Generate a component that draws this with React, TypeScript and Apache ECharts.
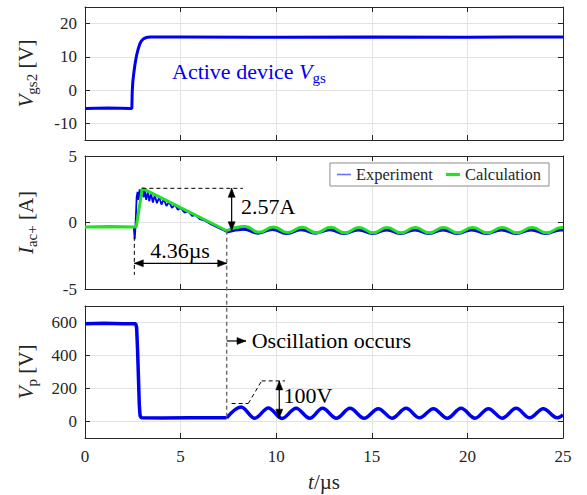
import React, { useEffect, useRef } from "react";
import * as echarts from "echarts";

const FONT = "Liberation Serif";
const INK = "#262626";
const BLUE = "#0000f0";
const GREEN = "#22e022";
const GRID_LINE = "#e3e3e3";

// Axis ranges and tick values
const timeRange = [0, 25];
const timeStep = 5;
const vgsRange = [-15, 25];
const vgsTicks = [-10, 0, 10, 20];
const iacRange = [-5, 5];
const iacTicks = [-5, 0, 5];
const vpRange = [-100, 700];
const vpTicks = [0, 200, 400, 600];

// Gate-source voltage of the active device [µs, V]
const vgs2Trace = [
  [0, -5.5], [1.2, -5.4], [2.45, -5.5], [2.47, -0.5], [2.5, 2.5], [2.55, 5],
  [2.6, 7.2], [2.65, 9], [2.7, 10.5], [2.78, 12.3], [2.86, 13.8], [2.95, 14.8],
  [3.05, 15.4], [3.2, 15.8], [3.4, 16.0], [5, 16.0], [10, 15.9], [15, 16.0],
  [20, 15.9], [25, 16.0],
];

// Measured ac current: switching transient [µs, A]
const iacMeasured = [
  [0, -0.33], [1.3, -0.3], [2.55, -0.33], [2.6, -1.25], [2.64, -0.3], [2.7, 1.9],
  [2.75, 2.3], [2.8, 1.7], [2.86, 2.5], [2.92, 1.8], [3.0, 2.6], [3.06, 1.9],
  [3.12, 2.4], [3.2, 1.7], [3.28, 2.3], [3.36, 1.6], [3.45, 2.2], [3.55, 1.5],
  [3.65, 2.05], [3.76, 1.45], [3.88, 1.9], [4.0, 1.35], [4.12, 1.75], [4.26, 1.25],
  [4.4, 1.55], [4.55, 1.1], [4.7, 1.35], [4.86, 0.95], [5.0, 1.1], [5.2, 0.75],
  [5.4, 0.85], [5.6, 0.5], [5.8, 0.55], [6.0, 0.25], [6.3, 0.12], [6.6, -0.15],
  [6.9, -0.35], [7.2, -0.55], [7.41, -0.72],
];
// Measured ac current: residual oscillation
const iacMeasuredOsc = [
  [7.41, -0.72], [8.3, -0.5], [9.05, -0.8], [9.8, -0.52], [10.55, -0.82],
  [11.3, -0.54], [12.05, -0.8], [12.8, -0.55], [13.55, -0.82], [14.3, -0.56],
  [15.05, -0.82], [15.78, -0.56], [16.5, -0.82], [17.25, -0.56], [17.98, -0.82],
  [18.72, -0.56], [19.47, -0.82], [20.22, -0.56], [21.0, -0.82], [21.78, -0.56],
  [22.55, -0.82], [23.33, -0.56], [24.1, -0.82], [24.88, -0.56], [25, -0.58],
];

// Calculated ac current [µs, A]
const iacCalc = [[0, -0.33], [2.68, -0.33], [3.0, 2.57], [7.41, -0.62]];
const iacCalcOsc = [
  [7.41, -0.62], [8.37, -0.3], [9.1, -0.74], [9.85, -0.33], [10.6, -0.76],
  [11.35, -0.35], [12.1, -0.77], [12.85, -0.36], [13.6, -0.78], [14.33, -0.37],
  [15.07, -0.78], [15.8, -0.37], [16.53, -0.78], [17.27, -0.37], [18.0, -0.78],
  [18.75, -0.37], [19.5, -0.78], [20.27, -0.37], [21.05, -0.78], [21.82, -0.37],
  [22.6, -0.78], [23.38, -0.37], [24.15, -0.78], [24.92, -0.37], [25, -0.38],
];

// Node voltage Vp [µs, V]
const vpTrace = [
  [0, 593], [1, 595], [2, 592], [2.65, 593], [2.7, 570], [2.75, 430], [2.8, 250],
  [2.84, 100], [2.88, 35], [2.95, 22], [4, 21], [5.5, 22], [7.41, 22],
];
const vpOsc = [
  [7.41, 22], [8.16, 88], [8.88, 20], [9.59, 82], [10.3, 18], [11.04, 80],
  [11.75, 20], [12.42, 80], [13.15, 20], [13.86, 80], [14.6, 20], [15.34, 78],
  [16.06, 20], [16.79, 80], [17.5, 22], [18.22, 78], [18.95, 20], [19.67, 80],
  [20.4, 20], [21.1, 78], [21.82, 20], [22.55, 80], [23.26, 22], [23.97, 78],
  [24.7, 22], [25, 40],
];

// Annotation anchors (data coordinates)
const peakCurrent = 2.57;
const troughCurrent = -0.62;
const stepStart = 2.58;
const troughTime = 7.41;
const peakTime = 3.0;

const GRIDS = [
  { left: 85, right: 24, top: 7, height: 133 },
  { left: 85, right: 24, top: 156, height: 133 },
  { left: 85, right: 24, top: 306, height: 132 },
];

const tickStyle = { inside: true, length: 5, lineStyle: { color: INK, width: 1 } };
const lineStyleAxis = { show: true, onZero: false, lineStyle: { color: INK, width: 1 } };
const serif = (size: number, extra: any = {}) => ({ fontFamily: FONT, fontSize: size, color: INK, ...extra });

// Tick labels are routed through rich text so the serif face is applied
const tickLabel = {
  formatter: (v: number) => `{n|${v}}`,
  ...serif(17),
  rich: { n: serif(17) },
};

function xAxesFor(g: number, labelled: boolean) {
  const bottom: any = {
    type: "value", gridIndex: g, position: "bottom",
    min: timeRange[0], max: timeRange[1], interval: timeStep,
    axisLine: lineStyleAxis, axisTick: tickStyle,
    axisLabel: { show: labelled, ...tickLabel, margin: 10 },
    splitLine: { show: true, lineStyle: { color: GRID_LINE, width: 1 } },
  };
  if (labelled) {
    bottom.name = "{i|t}{u|/µs}";
    bottom.nameLocation = "middle";
    bottom.nameGap = 33;
    bottom.nameTextStyle = {
      ...serif(21),
      rich: { i: serif(21, { fontStyle: "italic" }), u: serif(21) },
    };
  }
  const top = {
    type: "value", gridIndex: g, position: "top",
    min: timeRange[0], max: timeRange[1], interval: timeStep,
    axisLine: lineStyleAxis, axisTick: tickStyle,
    axisLabel: { show: false }, splitLine: { show: false },
  };
  return [bottom, top];
}

function yAxesFor(g: number, range: number[], ticks: number[], sym: string, sub: string, unit: string) {
  const nameRich = {
    v: serif(21, { fontStyle: "italic", lineHeight: 26 }),
    s: serif(15, { lineHeight: 16, verticalAlign: "bottom" }),
    u: serif(21, { lineHeight: 26 }),
  };
  const left = {
    type: "value", gridIndex: g, position: "left",
    min: range[0], max: range[1],
    axisLine: lineStyleAxis,
    axisTick: { ...tickStyle, customValues: ticks },
    axisLabel: { customValues: ticks, ...tickLabel, margin: 8 },
    splitLine: { show: true, lineStyle: { color: GRID_LINE, width: 1 } },
    name: `{v|${sym}}{s|${sub}}{u| [${unit}]}`,
    nameLocation: "middle",
    nameGap: 46,
    nameTextStyle: { ...serif(21), rich: nameRich },
  };
  const right = {
    type: "value", gridIndex: g, position: "right",
    min: range[0], max: range[1],
    axisLine: lineStyleAxis,
    axisTick: { ...tickStyle, customValues: ticks },
    axisLabel: { show: false, customValues: ticks },
    splitLine: { show: false },
  };
  return [left, right];
}

function trace(name: string, g: number, data: number[][], color: string, width: number, smooth: number | boolean = false, z = 2) {
  return {
    type: "line", name, xAxisIndex: 2 * g, yAxisIndex: 2 * g, data,
    symbol: "none", showSymbol: false, smooth, silent: true, z,
    lineStyle: { color, width }, itemStyle: { color },
    emphasis: { disabled: true },
  };
}

function buildOption() {
  return {
    animation: false,
    backgroundColor: "#ffffff",
    textStyle: { fontFamily: FONT },
    grid: GRIDS,
    xAxis: [...xAxesFor(0, false), ...xAxesFor(1, false), ...xAxesFor(2, true)],
    yAxis: [
      ...yAxesFor(0, vgsRange, vgsTicks, "V", "gs2", "V"),
      ...yAxesFor(1, iacRange, iacTicks, "I", "ac+", "A"),
      ...yAxesFor(2, vpRange, vpTicks, "V", "p", "V"),
    ],
    legend: {
      data: [
        { name: "Experiment", icon: "path://M0,0H14V1.6H0Z", itemStyle: { color: "#6f6fff" } },
        { name: "Calculation", icon: "path://M0,0H14V3.2H0Z", itemStyle: { color: GREEN } },
      ],
      formatter: (name: string) => `{n|${name}}`,
      right: 38, top: 163,
      itemWidth: 14, itemHeight: 10, itemGap: 13,
      padding: [3, 8, 3, 7],
      borderColor: "#8c8c8c", borderWidth: 1, borderRadius: 0,
      backgroundColor: "#ffffff",
      textStyle: { ...serif(16.5), rich: { n: serif(16.5) } },
      selectedMode: false,
    },
    series: [
      trace("Vgs2", 0, vgs2Trace, BLUE, 3),
      trace("Experiment", 1, iacMeasured, BLUE, 1.8),
      trace("Experiment", 1, iacMeasuredOsc, BLUE, 3, 0.5),
      trace("Calculation", 1, iacCalc, GREEN, 3, false, 3),
      trace("Calculation", 1, iacCalcOsc, GREEN, 3, 0.5, 3),
      trace("Vp", 2, vpTrace, BLUE, 3.5),
      trace("Vp", 2, vpOsc, BLUE, 3.5, 0.35),
    ],
  };
}

function buildAnnotations(chart: echarts.ECharts) {
  const P = (g: number, x: number, y: number) =>
    chart.convertToPixel({ xAxisIndex: 2 * g, yAxisIndex: 2 * g } as any, [x, y]) as number[];
  const els: any[] = [];

  const seg = (a: number[], b: number[], stroke: string, width: number, dash?: number[]) => {
    els.push({
      type: "line", silent: true, z: 50,
      shape: { x1: a[0], y1: a[1], x2: b[0], y2: b[1] },
      style: { stroke, lineWidth: width, lineDash: dash || null },
    });
  };
  const head = (tip: number[], from: number[]) => {
    const dx = tip[0] - from[0], dy = tip[1] - from[1];
    const len = Math.hypot(dx, dy) || 1;
    const ux = dx / len, uy = dy / len;
    const L = 9, H = 3.5;
    const bx = tip[0] - ux * L, by = tip[1] - uy * L;
    els.push({
      type: "polygon", silent: true, z: 51,
      shape: { points: [tip, [bx - uy * H, by + ux * H], [bx + uy * H, by - ux * H]] },
      style: { fill: "#000000", stroke: "#000000", lineWidth: 0.5 },
    });
  };
  const arrow = (a: number[], b: number[], both: boolean) => {
    seg(a, b, "#000000", 1.2);
    head(b, a);
    if (both) head(a, b);
  };
  const label = (p: number[], text: string, align: string, color = "#000000", rich?: any) => {
    els.push({
      type: "text", silent: true, z: 52, x: p[0], y: p[1],
      style: {
        text, fill: color, fontFamily: FONT, fontSize: 22,
        align, verticalAlign: "middle", textAlign: align, textVerticalAlign: "middle",
        rich,
      },
    });
  };

  // Gate signal caption
  label(P(0, 4.55, 5.5), "Active device {v|V}{s|gs}", "left", BLUE, {
    v: { fontFamily: FONT, fontSize: 22, fontStyle: "italic", fill: BLUE, lineHeight: 28 },
    s: { fontFamily: FONT, fontSize: 15, fill: BLUE, lineHeight: 17, verticalAlign: "bottom" },
  });

  // Current peak and decay time
  seg(P(1, peakTime, peakCurrent), P(1, 8.26, peakCurrent), "#000000", 1, [4, 3]);
  seg(P(1, stepStart, -1.08), P(1, stepStart, -3.94), "#000000", 1, [4, 3]);
  arrow(P(1, 7.67, peakCurrent), P(1, 7.67, troughCurrent), true);
  arrow(P(1, stepStart, -3.07), P(1, troughTime, -3.07), true);
  label(P(1, 8.16, 1.17), "2.57A", "left");
  label(P(1, 4.97, -2.07), "4.36µs", "center");

  // Onset of oscillation, carried down to the voltage trace
  seg(P(1, troughTime, troughCurrent), P(2, troughTime, 22), "#707070", 1.5, [4, 3]);
  arrow(P(2, troughTime, 488), P(2, 8.42, 488), false);
  label(P(2, 8.72, 488), "Oscillation occurs", "left");

  // Oscillation amplitude bracket
  seg(P(2, 7.67, 109), P(2, 8.54, 109), "#000000", 1, [4, 3]);
  seg(P(2, 8.54, 109), P(2, 9.24, 246), "#000000", 1, [4, 3]);
  seg(P(2, 9.24, 246), P(2, 10.46, 246), "#000000", 1, [4, 3]);
  arrow(P(2, 10.16, 246), P(2, 10.16, 20), true);
  label(P(2, 10.38, 159), "100V", "left");

  return els;
}

export default function App() {
  const ref = useRef<HTMLDivElement>(null);
  useEffect(() => {
    const chart = echarts.init(ref.current!, undefined, { renderer: "svg" });
    chart.setOption(buildOption() as any);
    chart.setOption({ graphic: { elements: buildAnnotations(chart) } } as any);
    return () => chart.dispose();
  }, []);
  return (
    <div
      ref={ref}
      style={{ position: "absolute", left: 0, top: 0, width: 587, height: 495, background: "#fff" }}
    />
  );
}
